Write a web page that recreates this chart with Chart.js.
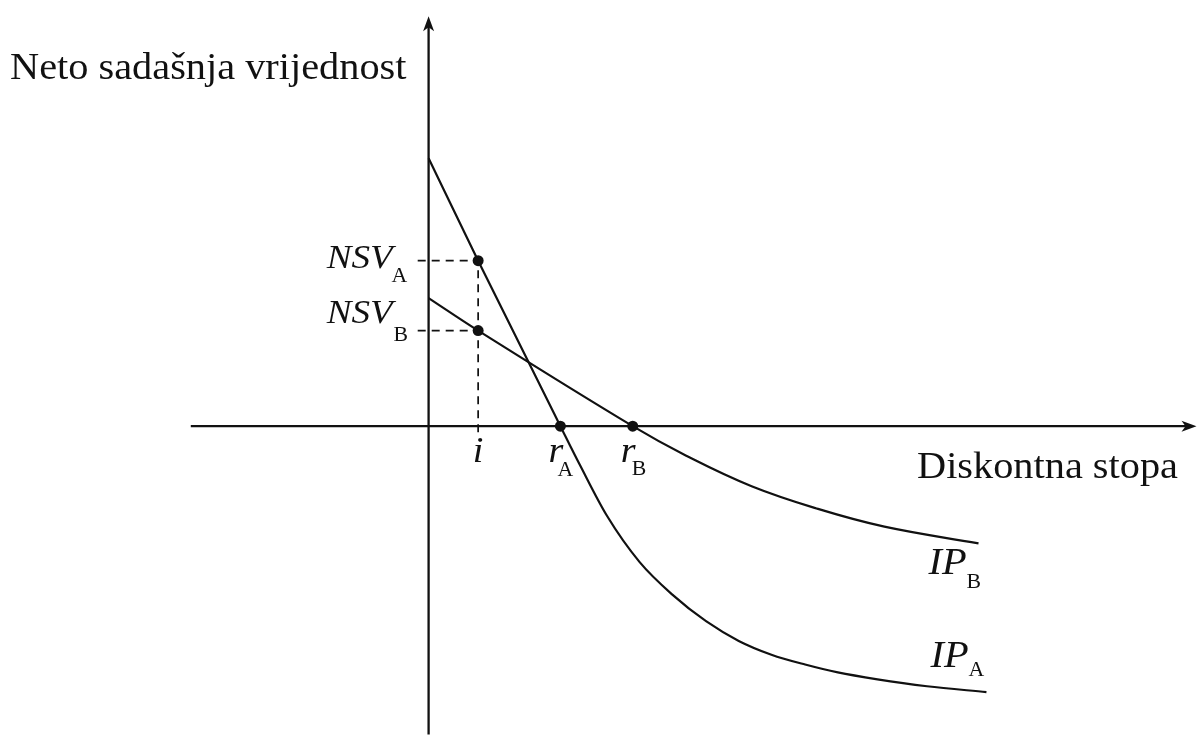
<!DOCTYPE html>
<html>
<head>
<meta charset="utf-8">
<title>Neto sadašnja vrijednost</title>
<script src="https://cdn.jsdelivr.net/npm/chart.js@4.4.0/dist/chart.umd.min.js"></script>
<style>
  html, body { margin: 0; padding: 0; background: #fff; }
  #wrap { width: 1203px; height: 740px; }
</style>
</head>
<body>
<div id="wrap"><canvas id="npvChart" width="1203" height="740"></canvas></div>
<script>
// Profil investicijskog projekta A: diskontna stopa -> NSV
const rateA = [0, 5, 13.3, 15.3, 18, 21.3, 24.6, 28, 31.3, 34.6, 38, 41.3, 45.3, 50.3, 56.3];
const npvA  = [27.2, 16.8, 0, -4.0, -9.1, -13.8, -17.1, -19.8, -21.8, -23.2, -24.2, -25.0, -25.7, -26.4, -27];

// Profil investicijskog projekta B
const rateB = [0, 5, 20.6, 26, 32.6, 39.3, 46, 55.5];
const npvB  = [13, 9.7, 0, -3, -6.1, -8.4, -10.2, -11.9];

// Oznacene tocke: stopa i, NSV kod i, interne stope r_A i r_B
const rateI = 5;
const npvAtI = [16.8, 9.7];
const irr = [13.3, 20.6];

// Raspon osi
const xRange = [-42.7, 77.6];
const yRange = [-31.3, 42.7];
const xAxisStart = -24;
const yAxisTop = 41.6;

const INK = '#111';
const STRETCH = 1.09;

function toPoints(xs, ys) {
    return xs.map((x, i) => ({ x: x, y: ys[i] }));
}

// Draw text stretched horizontally like the scanned figure
function txt(ctx, s, x, y, size, italic, align) {
    ctx.save();
    ctx.font = (italic ? 'italic ' : '') + size + 'px "Liberation Serif", "Times New Roman", serif';
    ctx.fillStyle = INK;
    ctx.textBaseline = 'alphabetic';
    let w = ctx.measureText(s).width * STRETCH;
    let left = x;
    if (align === 'right') left = x - w;
    if (align === 'center') left = x - w / 2;
    ctx.translate(left, y);
    ctx.scale(STRETCH, 1);
    ctx.fillText(s, 0, 0);
    ctx.restore();
    return w;
}

function arrow(ctx, tipX, tipY, dir) {
    ctx.save();
    ctx.fillStyle = INK;
    ctx.beginPath();
    if (dir === 'up') {
        ctx.moveTo(tipX, tipY);
        ctx.lineTo(tipX + 5.5, tipY + 15);
        ctx.lineTo(tipX, tipY + 11);
        ctx.lineTo(tipX - 5.5, tipY + 15);
    } else {
        ctx.moveTo(tipX, tipY);
        ctx.lineTo(tipX - 15, tipY - 5.5);
        ctx.lineTo(tipX - 11, tipY);
        ctx.lineTo(tipX - 15, tipY + 5.5);
    }
    ctx.closePath();
    ctx.fill();
    ctx.restore();
}

const axesPlugin = {
    id: 'axesPlugin',
    beforeDatasetsDraw(chart) {
        const ctx = chart.ctx;
        const xs = chart.scales.x, ys = chart.scales.y;
        const ox = xs.getPixelForValue(0), oy = ys.getPixelForValue(0);
        ctx.save();
        ctx.strokeStyle = INK;
        ctx.lineWidth = 2.3;
        ctx.beginPath();
        ctx.moveTo(ox, chart.chartArea.bottom);
        ctx.lineTo(ox, ys.getPixelForValue(yAxisTop) + 6);
        ctx.moveTo(xs.getPixelForValue(xAxisStart), oy);
        ctx.lineTo(xs.getPixelForValue(xRange[1]) - 6, oy);
        ctx.stroke();
        ctx.restore();
    },
    afterDatasetsDraw(chart) {
        const ctx = chart.ctx;
        const xs = chart.scales.x, ys = chart.scales.y;
        const px = v => xs.getPixelForValue(v);
        const py = v => ys.getPixelForValue(v);
        const ox = px(0), oy = py(0);

        arrow(ctx, ox, py(yAxisTop), 'up');
        arrow(ctx, px(xRange[1]) - 1, oy, 'right');

        // axis titles
        txt(ctx, 'Neto sadašnja vrijednost', 10, 79, 37, false, 'left');
        txt(ctx, 'Diskontna stopa', 917, 478, 37, false, 'left');

        // NSV labels on the vertical axis
        const yA = py(npvAtI[0]), yB = py(npvAtI[1]);
        txt(ctx, 'NSV', ox - 36, yA + 7, 34, true, 'right');
        txt(ctx, 'A', ox - 37, yA + 21, 20, false, 'left');
        txt(ctx, 'NSV', ox - 36, yB - 8, 34, true, 'right');
        txt(ctx, 'B', ox - 35, yB + 10, 20, false, 'left');

        // rates on the horizontal axis
        txt(ctx, 'i', px(rateI), oy + 36, 35, true, 'center');
        txt(ctx, 'r', px(irr[0]) - 12, oy + 36, 35, true, 'left');
        txt(ctx, 'A', px(irr[0]) - 3, oy + 50, 20, false, 'left');
        txt(ctx, 'r', px(irr[1]) - 12, oy + 36, 35, true, 'left');
        txt(ctx, 'B', px(irr[1]) - 1, oy + 49, 20, false, 'left');

        // curve names
        const endA = { x: px(rateA[rateA.length - 1]), y: py(npvA[npvA.length - 1]) };
        const endB = { x: px(rateB[rateB.length - 1]), y: py(npvB[npvB.length - 1]) };
        let w = txt(ctx, 'IP', endB.x - 50, endB.y + 31, 37, true, 'left');
        txt(ctx, 'B', endB.x - 50 + w, endB.y + 45, 20, false, 'left');
        w = txt(ctx, 'IP', endA.x - 56, endA.y - 25, 37, true, 'left');
        txt(ctx, 'A', endA.x - 56 + w, endA.y - 16, 20, false, 'left');
    }
};

const guideStyle = {
    borderColor: INK,
    borderWidth: 1.7,
    borderDash: [8, 6],
    pointRadius: 0,
    tension: 0,
    fill: false
};

new Chart(document.getElementById('npvChart'), {
    type: 'line',
    data: {
        datasets: [
            Object.assign({
                label: 'NSV_A guide',
                data: [{ x: -1.1, y: npvAtI[0] }, { x: rateI, y: npvAtI[0] }, { x: rateI, y: -1 }]
            }, guideStyle),
            Object.assign({
                label: 'NSV_B guide',
                data: [{ x: -1.1, y: npvAtI[1] }, { x: rateI, y: npvAtI[1] }]
            }, guideStyle),
            {
                label: 'IP_A',
                data: toPoints(rateA, npvA),
                borderColor: INK,
                borderWidth: 2.2,
                pointRadius: 0,
                cubicInterpolationMode: 'monotone',
                fill: false
            },
            {
                label: 'IP_B',
                data: toPoints(rateB, npvB),
                borderColor: INK,
                borderWidth: 2.2,
                pointRadius: 0,
                tension: 0.4,
                fill: false
            },
            {
                label: 'points',
                data: [
                    { x: rateI, y: npvAtI[0] },
                    { x: rateI, y: npvAtI[1] },
                    { x: irr[0], y: 0 },
                    { x: irr[1], y: 0 }
                ],
                showLine: false,
                pointRadius: 5.5,
                pointBackgroundColor: INK,
                pointBorderColor: INK,
                pointBorderWidth: 0
            }
        ]
    },
    options: {
        responsive: false,
        animation: false,
        devicePixelRatio: 1,
        layout: { padding: 0 },
        plugins: {
            legend: { display: false },
            tooltip: { enabled: false }
        },
        scales: {
            x: { type: 'linear', min: xRange[0], max: xRange[1], display: false },
            y: { type: 'linear', min: yRange[0], max: yRange[1], display: false }
        }
    },
    plugins: [axesPlugin]
});
</script>
</body>
</html>
